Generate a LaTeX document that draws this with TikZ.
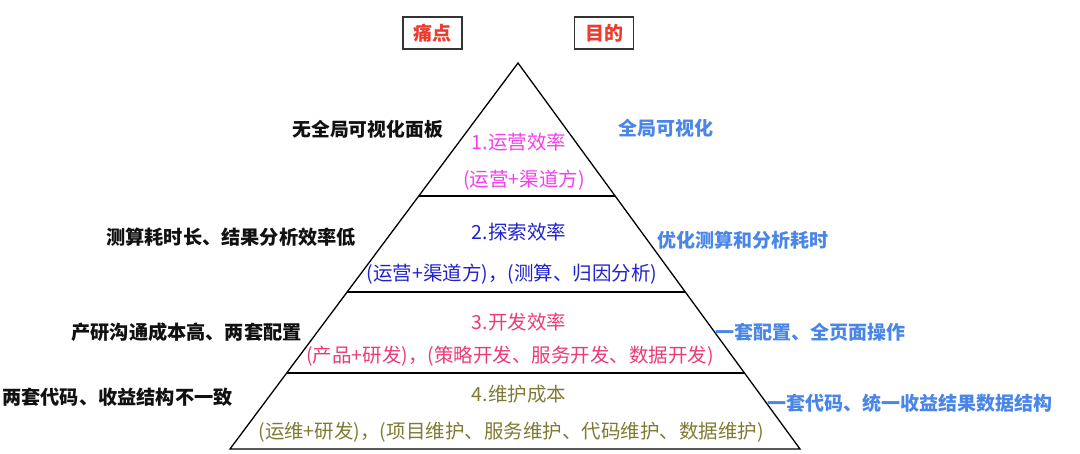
\documentclass[tikz,border=0pt]{standalone}
\usepackage{fontspec}
\setmainfont{Noto Sans CJK SC}
\usetikzlibrary{calc}
\definecolor{titlered}{HTML}{F03A2E}
\definecolor{painblack}{HTML}{111111}
\definecolor{goalblue}{HTML}{4A86E8}
\definecolor{lvlone}{HTML}{F53CF0}
\definecolor{lvltwo}{HTML}{1F22CC}
\definecolor{lvlthree}{HTML}{EC3A78}
\definecolor{lvlfour}{HTML}{7F7A33}
\definecolor{framegray}{HTML}{333333}
\tikzset{
  titlebox/.style={draw=framegray, line width=1.4pt, text=titlered, font=\fontsize{19}{22}\selectfont\bfseries, minimum width=59pt, minimum height=32pt, inner sep=0pt},
  painlbl/.style={text=painblack, font=\fontsize{19.2}{24}\selectfont\bfseries, inner sep=0pt, anchor=east},
  goallbl/.style={text=goalblue, font=\fontsize{19}{24}\selectfont\bfseries, inner sep=0pt, anchor=west},
  lvltxt/.style={font=\fontsize{19.5}{24}\selectfont, inner sep=0pt},
  edge/.style={draw=black, line width=1.3pt, line join=miter},
  divider/.style={draw=black, line width=1.3pt}
}
\begin{document}
\begin{tikzpicture}[x=1pt, y=-1pt]
\useasboundingbox (0,0) rectangle (1080,454);
% titles
\node[titlebox] (pain) at (432.5,33) {痛点};
\node[titlebox] (goal) at (604,33) {目的};
% pyramid
\coordinate (apex) at (518,63);
\coordinate (bl) at (230,449);
\coordinate (br) at (800,449);
\draw[edge] (bl) -- (apex) -- (br) -- cycle;
\coordinate (l1) at ($(apex)!0.3446!(bl)$);
\coordinate (r1) at ($(apex)!0.3446!(br)$);
\coordinate (l2) at ($(apex)!0.5933!(bl)$);
\coordinate (r2) at ($(apex)!0.5933!(br)$);
\coordinate (l3) at ($(apex)!0.8031!(bl)$);
\coordinate (r3) at ($(apex)!0.8031!(br)$);
\draw[divider] (l1) -- (r1);
\draw[divider] (l2) -- (r2);
\draw[divider] (l3) -- (r3);
% level texts
\node[lvltxt, text=lvlone] (t1a) at (519,142) {1.运营效率};
\node[lvltxt, text=lvlone] (t1b) at (524,180) {(运营+渠道方)};
\node[lvltxt, text=lvltwo] (t2a) at (519,232) {2.探索效率};
\node[lvltxt, text=lvltwo] (t2b) at (512,274) {(运营+渠道方)，(测算、归因分析)};
\node[lvltxt, text=lvlthree] (t3a) at (519,322) {3.开发效率};
\node[lvltxt, text=lvlthree] (t3b) at (510,356) {(产品+研发)，(策略开发、服务开发、数据开发)};
\node[lvltxt, text=lvlfour] (t4a) at (519,394) {4.维护成本};
\node[lvltxt, text=lvlfour] (t4b) at (511,432) {(运维+研发)，(项目维护、服务维护、代码维护、数据维护)};
% pain points
\node[painlbl, font=\fontsize{18.8}{24}\selectfont\bfseries] (p1) at (443,129) {无全局可视化面板};
\node[painlbl] (p2) at (356,237) {测算耗时长、结果分析效率低};
\node[painlbl] (p3) at (302,332) {产研沟通成本高、两套配置};
\node[painlbl] (p4) at (233,397) {两套代码、收益结构不一致};
% goals
\node[goallbl] (g1) at (618,128) {全局可视化};
\node[goallbl] (g2) at (657,240) {优化测算和分析耗时};
\node[goallbl] (g3) at (715,332) {一套配置、全页面操作};
\node[goallbl] (g4) at (767,403) {一套代码、统一收益结果数据结构};
\end{tikzpicture}
\end{document}
